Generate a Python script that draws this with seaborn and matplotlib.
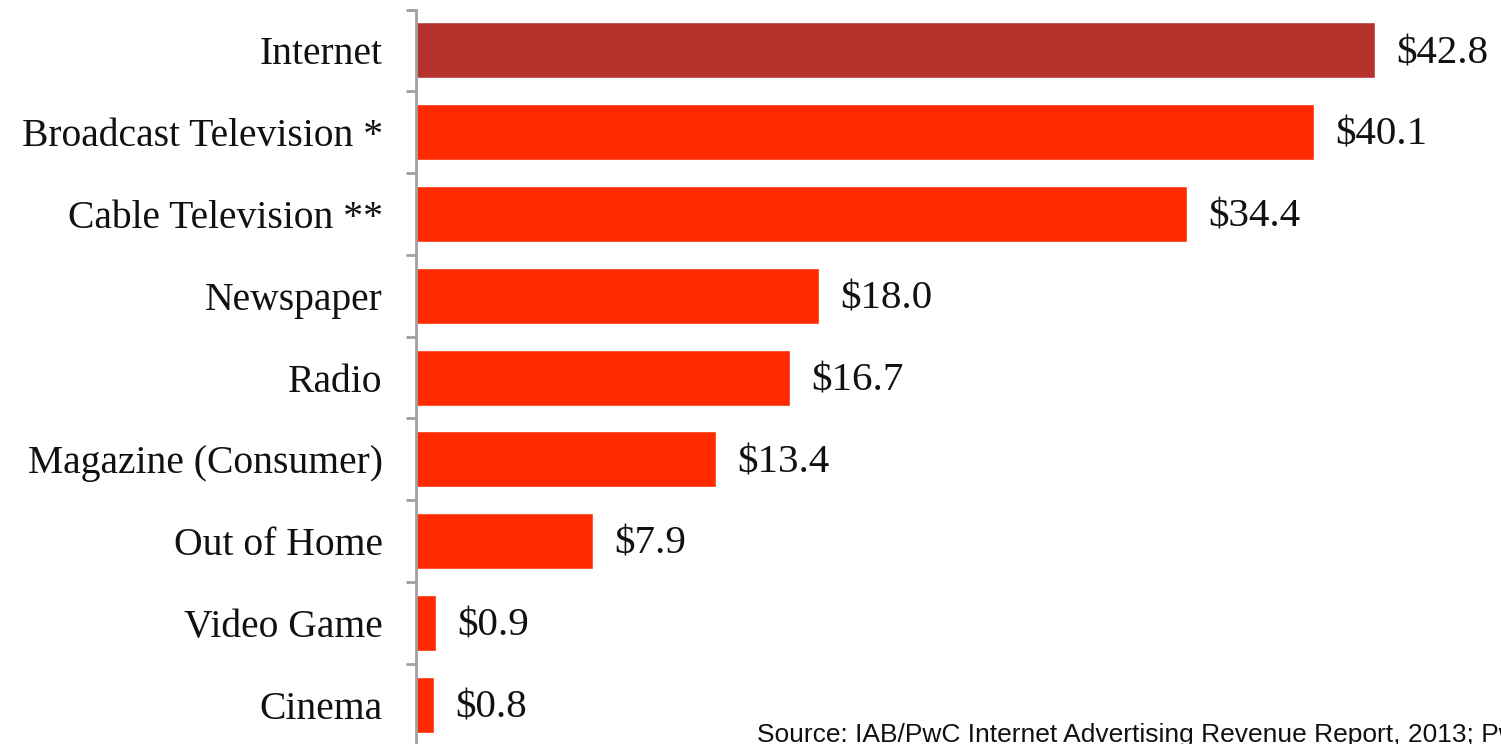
import matplotlib
matplotlib.use("Agg")
import matplotlib.pyplot as plt
import seaborn as sns
import pandas as pd
from matplotlib.ticker import FixedLocator

categories = ["Internet", "Broadcast Television *", "Cable Television **", "Newspaper",
              "Radio", "Magazine (Consumer)", "Out of Home", "Video Game", "Cinema"]
revenue = [42.8, 40.1, 34.4, 18.0, 16.7, 13.4, 7.9, 0.9, 0.8]
value_labels = ["$42.8", "$40.1", "$34.4", "$18.0", "$16.7", "$13.4", "$7.9", "$0.9", "$0.8"]
source_note = "Source: IAB/PwC Internet Advertising Revenue Report, 2013; PwC Global Entertainment & Media Outlook"

sns.set_theme(style="white")
plt.rcParams["font.family"] = ["Liberation Serif", "DejaVu Serif"]

df = pd.DataFrame({"category": categories, "revenue": revenue})
bar_colors = ["#B5322D"] + ["#FF2A00"] * (len(categories) - 1)

W, H, DPI = 1501, 744, 100
fig = plt.figure(figsize=(W / DPI, H / DPI), dpi=DPI)
left_px, top_px, bottom_px = 416, 9.5, 745.6
ax = fig.add_axes([left_px / W, (H - bottom_px) / H, 1 - left_px / W, (bottom_px - top_px) / H])

sns.barplot(data=df, x="revenue", y="category", hue="category", palette=bar_colors,
            legend=False, width=0.685, orient="h", saturation=1, ax=ax)

ax.set_xlim(0, (W - left_px) / 22.4)
ax.set_ylim(len(categories) - 0.5, -0.5)
ax.set_xlabel("")
ax.set_ylabel("")
ax.set_xticks([])

for s in ["top", "right", "bottom"]:
    ax.spines[s].set_visible(False)
ax.spines["left"].set_color("#A0A0A0")
ax.spines["left"].set_linewidth(2)

# category labels at bar centres, boundary tick marks between them
ax.tick_params(axis="y", which="major", length=0, pad=24, labelsize=28.5, labelcolor="#111111")
ax.yaxis.set_minor_locator(FixedLocator([i - 0.5 for i in range(len(categories) + 1)]))
ax.tick_params(axis="y", which="minor", length=7.5, width=2, color="#A0A0A0", left=True)

for i, (v, lab) in enumerate(zip(revenue, value_labels)):
    ax.text(v + 0.95, i + 0.04, lab, va="center", ha="left", fontsize=29.5, color="#111111")

fig.text(757 / W, 1 - 742 / H, source_note, fontsize=19, family="Liberation Sans",
         color="#111111", va="baseline", ha="left")

fig.savefig("out.png", dpi=DPI)
